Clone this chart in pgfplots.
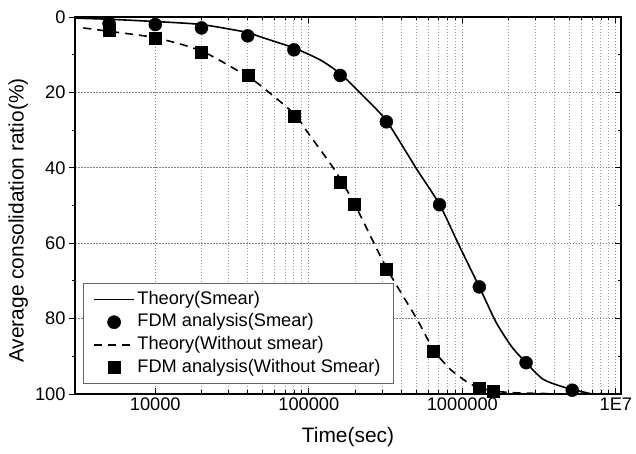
\documentclass[border=0pt]{standalone}
\usepackage{fontspec}
\setmainfont{Liberation Sans}
\usepackage{pgfplots}
\pgfplotsset{compat=1.18}
\pgfplotsset{
  lineleg/.style={legend image code/.code={\draw[##1] (0bp,0bp) -- (40bp,0bp);}},
  markleg/.style={legend image code/.code={\draw[##1] plot coordinates {(20bp,0bp)};}},
}

\pgfplotstableread{
x y
3000 0.3
5000 0.6
10000 1.2
20000 2.0
40000 4.1
47000 5.1
81000 8.3
120000 11.5
162000 15.2
224000 20.8
320000 27.5
507000 40.5
710000 49.7
950000 60.5
1290000 71.6
1660000 81.0
2100000 87.5
2600000 91.7
3330000 96.0
4200000 97.7
5210000 98.8
7000000 100
}\theorysmear

\pgfplotstableread{
x y
3400 2.9
5000 3.8
10000 5.5
20000 9.0
40000 15.8
50600 18.8
81000 25.8
98600 30.7
147000 40.5
198000 49.5
320000 66.5
507000 80.2
650000 88.3
832000 93.4
1090000 97.0
1290000 98.3
1580000 99.2
2240000 99.7
3660000 99.9
}\theorynosmear

\pgfplotstableread{
x y
5000 1.7
10000 2.0
20000 2.9
40000 5.0
80000 8.7
160000 15.5
320000 27.8
710000 49.8
1290000 71.6
2600000 91.7
5200000 99.0
}\fdmsmear

\pgfplotstableread{
x y
5000 3.5
10000 5.7
20000 9.4
40000 15.5
80000 26.3
160000 43.7
198000 49.7
320000 67.0
650000 88.6
1290000 98.5
1580000 99.2
}\fdmnosmear

\begin{document}
\begin{tikzpicture}
\begin{axis}[name=ax, scale only axis, width=546bp, height=377bp,
  xmode=log, xmin=3000, xmax=1.08e7, ymin=0, ymax=100, y dir=reverse,
  xtick={1e4,1e5,1e6,1e7}, xticklabels={10000,100000,1000000,1E7},
  ytick={0,20,...,100}, minor ytick={10,30,...,90}, yticklabels={},
  ytick pos=right, xtick pos=both, xticklabel pos=bottom,
  tick align=inside,
  major tick length=6bp, minor tick length=3.5bp,
  xmajorgrids, xminorgrids, ymajorgrids,
  major grid style={black!50, dash pattern=on 1.5bp off 1.5bp, line width=1bp},
  minor grid style={black!38, dash pattern=on 1.5bp off 1.5bp, line width=1bp},
  axis line style={line width=1.1bp},
  every tick/.style={black, line width=0.8bp},
  tick label style={font=\fontsize{18.3}{20}\selectfont},
  /pgf/number format/assume math mode=true,
  xlabel={Time(sec)},
  xlabel style={font=\fontsize{21}{24}\selectfont, at={(axis description cs:0.5,-0.114)}, anchor=center},
  legend style={at={(axis description cs:0.0147,0.0265)}, anchor=south west,
    draw=black!60, line width=0.6bp, font=\fontsize{18.3}{21.6}\selectfont,
    inner xsep=10bp, inner ysep=5bp, row sep=0pt, cells={anchor=west},
    nodes={inner sep=2.5bp, text height=13.5bp, text depth=4.1bp}},
]
\addplot[black, line width=1.6bp, mark=none, smooth, tension=0.4, lineleg] table {\theorysmear};
\addlegendentry{Theory(Smear)}
\addplot[black, only marks, mark=*, mark size=6.5bp, markleg] table {\fdmsmear};
\addlegendentry{FDM analysis(Smear)}
\addplot[black, line width=1.6bp, mark=none, dash pattern=on 8bp off 6bp, smooth, tension=0.4, lineleg] table {\theorynosmear};
\addlegendentry{Theory(Without smear)}
\addplot[black, only marks, mark=square*, mark size=6bp, markleg] table {\fdmnosmear};
\addlegendentry{FDM analysis(Without Smear)}
\end{axis}
\begin{axis}[scale only axis, width=546bp, height=377bp,
  xmode=log, xmin=3000, xmax=1.08e7, ymin=0, ymax=100, y dir=reverse,
  axis x line=none, axis y line*=left, y axis line style={-},
  tick align=outside,
  ytick={0,20,...,100}, minor ytick={10,30,...,90},
  major tick length=6bp, minor tick length=3.5bp,
  axis line style={line width=1.1bp},
  every tick/.style={black, line width=0.8bp},
  tick label style={font=\fontsize{18.3}{20}\selectfont},
  /pgf/number format/assume math mode=true,
  ylabel={Average consolidation ratio(\%)},
  ylabel style={font=\fontsize{21}{24}\selectfont, at={(axis description cs:-0.104,0.46)}, anchor=center},
]
\end{axis}
\pgfresetboundingbox
\path[use as bounding box] ([shift={(-75bp,-60bp)}]ax.south west) rectangle ([shift={(15bp,17bp)}]ax.north east);
\end{tikzpicture}
\end{document}
